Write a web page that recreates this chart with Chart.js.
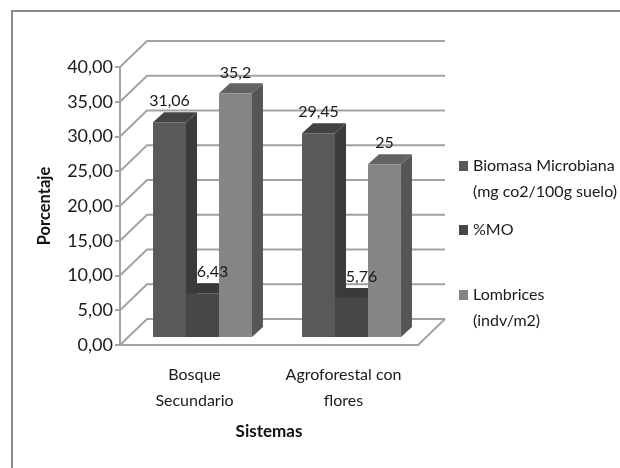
<!DOCTYPE html>
<html>
<head>
<meta charset="utf-8">
<style>
html, body { margin: 0; padding: 0; background: #fff; }
canvas { display: block; }
</style>
<script src="https://cdn.jsdelivr.net/npm/chart.js@4"></script>
</head>
<body>
<canvas id="chart" width="620" height="468"></canvas>
<script>
const categories = [['Bosque', 'Secundario'], ['Agroforestal con', 'flores']];
const biomasa = [31.06, 29.45];
const materiaOrganica = [6.43, 5.76];
const lombrices = [35.2, 25];
const biomasaLabels = ['31,06', '29,45'];
const moLabels = ['6,43', '5,76'];
const lombricesLabels = ['35,2', '25'];
const legendBiomasa = ['Biomasa Microbiana', '(mg co2/100g suelo)'];
const legendMO = ['%MO'];
const legendLombrices = ['Lombrices', '(indv/m2)'];

const font = 'Lato, "Noto Sans", sans-serif';
const grey = '#a3a3a3';
const textColor = '#1a1a1a';

// depth of the fake 3d box and of the bars inside it
const wallX = 27, wallY = -26;
const barShiftX = 8, barShiftY = -7;
const sideX = 11, sideY = -10;

function poly(ctx, color, pts) {
    ctx.fillStyle = color;
    ctx.beginPath();
    pts.forEach((p, i) => i ? ctx.lineTo(p[0], p[1]) : ctx.moveTo(p[0], p[1]));
    ctx.closePath();
    ctx.fill();
}

const box3d = {
    id: 'box3d',
    // walls, floor, then every top and side face. Fronts come after from the library
    beforeDatasetsDraw(chart) {
        const { ctx, chartArea: a, scales: { y } } = chart;
        ctx.save();
        ctx.strokeStyle = grey;
        ctx.lineWidth = 2;
        y.ticks.forEach(t => {
            const py = y.getPixelForValue(t.value);
            ctx.beginPath();
            ctx.moveTo(a.left, py);
            ctx.lineTo(a.left + wallX, py + wallY);
            ctx.lineTo(a.right + wallX, py + wallY);
            ctx.stroke();
        });
        const y0 = y.getPixelForValue(0);
        ctx.beginPath();
        ctx.moveTo(a.right, y0);
        ctx.lineTo(a.right + wallX, y0 + wallY);
        ctx.stroke();
        ctx.translate(barShiftX, barShiftY);
        chart.data.datasets.forEach((ds, i) => {
            chart.getDatasetMeta(i).data.forEach(bar => {
                const l = bar.x - bar.width / 2, r = bar.x + bar.width / 2;
                poly(ctx, ds.sideColor, [[r, bar.y], [r + sideX, bar.y + sideY], [r + sideX, bar.base + sideY], [r, bar.base]]);
                poly(ctx, ds.topColor, [[l, bar.y], [l + sideX, bar.y + sideY], [r + sideX, bar.y + sideY], [r, bar.y]]);
            });
        });
        ctx.restore();
    },
    beforeDatasetDraw(chart) {
        chart.ctx.save();
        chart.ctx.translate(barShiftX, barShiftY);
    },
    afterDatasetDraw(chart) {
        chart.ctx.restore();
    },
    afterDatasetsDraw(chart) {
        const { ctx } = chart;
        ctx.save();
        ctx.font = '16px ' + font;
        ctx.fillStyle = textColor;
        ctx.textAlign = 'center';
        ctx.textBaseline = 'middle';
        chart.data.datasets.forEach((ds, i) => {
            chart.getDatasetMeta(i).data.forEach((bar, j) => {
                ctx.fillText(ds.valueLabels[j], bar.x + barShiftX + ds.labelShift, bar.y + barShiftY - 21);
            });
        });
        ctx.restore();
    },
    afterDraw(chart) {
        const { ctx } = chart;
        ctx.save();
        // frame: only top and left are inside the picture
        ctx.strokeStyle = '#8c8c8c';
        ctx.lineWidth = 2;
        ctx.beginPath();
        ctx.moveTo(12, 468);
        ctx.lineTo(12, 11);
        ctx.lineTo(620, 11);
        ctx.stroke();
        // legend
        ctx.font = '16px ' + font;
        ctx.textBaseline = 'middle';
        ctx.textAlign = 'left';
        const rows = [166, 230, 295];
        chart.data.datasets.forEach((ds, i) => {
            ctx.fillStyle = ds.backgroundColor;
            ctx.fillRect(459, rows[i] - 5, 9, 10);
            ctx.fillStyle = textColor;
            ds.legendLines.forEach((line, k) => ctx.fillText(line, 473, rows[i] + k * 26));
        });
        ctx.restore();
    }
};

new Chart(document.getElementById('chart'), {
    type: 'bar',
    data: {
        labels: categories,
        datasets: [
            { label: legendBiomasa.join(' '), legendLines: legendBiomasa, data: biomasa, valueLabels: biomasaLabels, labelShift: 0,
              backgroundColor: '#595959', sideColor: '#3b3b3b', topColor: '#434343' },
            { label: legendMO.join(' '), legendLines: legendMO, data: materiaOrganica, valueLabels: moLabels, labelShift: 10,
              backgroundColor: '#474747', sideColor: '#3a3a3a', topColor: '#3a3a3a' },
            { label: legendLombrices.join(' '), legendLines: legendLombrices, data: lombrices, valueLabels: lombricesLabels, labelShift: 0,
              backgroundColor: '#858585', sideColor: '#555555', topColor: '#636363' }
        ]
    },
    plugins: [box3d],
    options: {
        responsive: false,
        animation: false,
        layout: { padding: { left: 0, right: 202, top: 67, bottom: 0 } },
        categoryPercentage: 0.664,
        barPercentage: 1,
        plugins: { legend: { display: false }, tooltip: { enabled: false } },
        scales: {
            x: {
                afterFit(scale) { scale.height = 123; },
                grid: { display: false },
                border: { display: true, color: grey, width: 2 },
                ticks: { color: textColor, padding: 9, maxRotation: 0, font: { family: font, size: 16, lineHeight: 1.6 } },
                title: { display: true, text: 'Sistemas', color: '#111', padding: { top: 0, bottom: 26 }, font: { family: font, size: 17, weight: 'bold' } }
            },
            y: {
                min: 0,
                max: 40,
                afterFit(scale) { scale.width = 120; },
                grid: { drawOnChartArea: false, drawTicks: true, tickLength: 5, color: grey, lineWidth: 2 },
                border: { display: true, color: grey, width: 2 },
                ticks: { stepSize: 5, color: textColor, padding: 2, font: { family: font, size: 18 },
                    callback: v => v.toFixed(2).replace('.', ',') },
                title: { display: true, text: 'Porcentaje', color: '#111', padding: { top: 35, bottom: 0 }, font: { family: font, size: 16.5, weight: 'bold' } }
            }
        }
    }
});
</script>
</body>
</html>
